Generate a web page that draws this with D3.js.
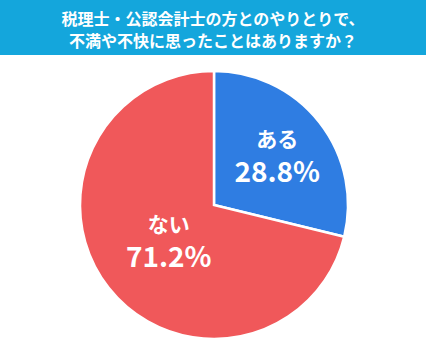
<!DOCTYPE html>
<html>
<head>
<meta charset="utf-8">
<script src="https://cdn.jsdelivr.net/npm/d3@7"></script>
<style>
    body { margin: 0; background: #fff; }
    #chart { width: 426px; height: 354px; }
    text { font-family: "Noto Sans CJK JP", "Noto Sans", sans-serif; }
</style>
</head>
<body>
<div id="chart"></div>
<script>
//Datos
const TITULO = ['税理士・公認会計士の方とのやりとりで、', '不満や不快に思ったことはありますか？'];
const categorias = ['ある', 'ない'];
const valores = [28.8, 71.2];

//Colores fijos
const COLOR_BANNER = '#14a6dc',
COLOR_SI = '#2f7de2',
COLOR_NO = '#f0585a';

let width = 426, height = 354;

let svg = d3.select('#chart')
    .append('svg')
        .attr('width', width)
        .attr('height', height);

//Cabecera
svg.append('rect')
    .attr('x', 0).attr('y', 0)
    .attr('width', width).attr('height', 55)
    .attr('fill', COLOR_BANNER);

svg.selectAll('.titulo')
    .data(TITULO)
    .enter()
    .append('text')
    .attr('class', 'titulo')
    .attr('x', width / 2)
    .attr('y', function(d, i) { return 19 + i * 22; })
    .attr('dy', '0.35em')
    .attr('text-anchor', 'middle')
    .attr('fill', '#fff')
    .attr('font-size', '16px')
    .attr('font-weight', 'bold')
    .text(function(d) { return d; });

//Tarta
let cx = 214, cy = 205, radius = 134;

let data = categorias.map(function(c, i) { return {cat: c, value: valores[i]}; });

let color = d3.scaleOrdinal()
    .domain(categorias)
    .range([COLOR_SI, COLOR_NO]);

let pie = d3.pie()
    .sort(null)
    .value(function(d) { return d.value; });

let arc = d3.arc().innerRadius(0).outerRadius(radius);

let g = svg.append('g')
    .attr('transform', 'translate(' + cx + ',' + cy + ')');

let arcs = pie(data);

g.selectAll('path')
    .data(arcs)
    .enter()
    .append('path')
    .attr('d', arc)
    .attr('fill', function(d) { return color(d.data.cat); })
    .attr('stroke', '#fff')
    .attr('stroke-width', 2.5)
    .attr('stroke-linejoin', 'miter');

//Etiquetas: radio distinto por porción
let labelR = [0.6, 0.43];

let labels = g.selectAll('.label')
    .data(arcs)
    .enter()
    .append('g')
    .attr('class', 'label')
    .attr('transform', function(d, i) {
        let r = radius * labelR[i];
        let c = d3.arc().innerRadius(r).outerRadius(r).centroid(d);
        return 'translate(' + c[0] + ',' + c[1] + ')';
    });

labels.append('text')
    .attr('text-anchor', 'middle')
    .attr('y', -16)
    .attr('dy', '0.35em')
    .attr('fill', '#fff')
    .attr('font-size', '21px')
    .attr('font-weight', 'bold')
    .text(function(d) { return d.data.cat; });

labels.append('text')
    .attr('text-anchor', 'middle')
    .attr('y', 17)
    .attr('dy', '0.35em')
    .attr('fill', '#fff')
    .attr('font-size', '28px')
    .attr('font-weight', 'bold')
    .text(function(d) { return d.data.value.toFixed(1) + '%'; });
</script>
</body>
</html>
